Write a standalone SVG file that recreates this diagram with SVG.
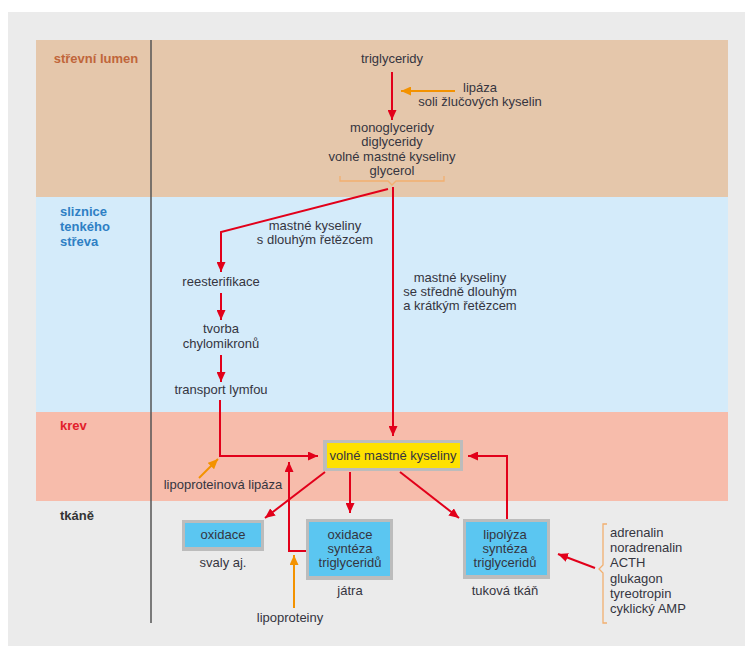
<svg xmlns="http://www.w3.org/2000/svg" width="745" height="646" viewBox="0 0 745 646">
<defs>
<style>
.t{font-family:"Liberation Sans",Arial,sans-serif;font-size:13px;fill:#35353f;text-anchor:middle}
.tl{font-family:"Liberation Sans",Arial,sans-serif;font-size:13px;fill:#35353f}
.b{font-family:"Liberation Sans",Arial,sans-serif;font-size:13px;font-weight:bold}
.r{stroke:#e2001a;stroke-width:2;fill:none}
.o{stroke:#f39200;stroke-width:2;fill:none}
.br{stroke:#f2b070;stroke-width:1.3;fill:none}
.frame{fill:#bcbcbc}
.blue{fill:#5bc6f1}
</style>
<marker id="ar" viewBox="0 0 10 9" refX="10" refY="4.5" markerWidth="10" markerHeight="9" markerUnits="userSpaceOnUse" orient="auto"><path d="M0,0 L10,4.5 L0,9 z" fill="#e2001a"/></marker>
<marker id="ao" viewBox="0 0 10 9" refX="10" refY="4.5" markerWidth="10" markerHeight="9" markerUnits="userSpaceOnUse" orient="auto"><path d="M0,0 L10,4.5 L0,9 z" fill="#f39200"/></marker>
</defs>
<rect x="8" y="12" width="737" height="634" fill="#ebebeb"/>
<g id="bands">
<rect x="36" y="40" width="692" height="157" fill="#e5c7ab"/>
<rect x="36" y="197" width="692" height="215" fill="#d4ebfa"/>
<rect x="36" y="412" width="692" height="89" fill="#f7bcab"/>
<line x1="151" y1="40" x2="151" y2="623" stroke="#555" stroke-width="1.5"/>
<text class="b" x="96" y="63" text-anchor="middle" fill="#c0653a">střevní lumen</text>
<text class="b" x="60" y="216" fill="#2e7fc4">sliznice</text>
<text class="b" x="60" y="231" fill="#2e7fc4">tenkého</text>
<text class="b" x="60" y="246" fill="#2e7fc4">střeva</text>
<text class="b" x="60" y="430" fill="#e2202a">krev</text>
<text class="b" x="60" y="520" fill="#333">tkáně</text>
</g>
<g id="connectors">
<line class="r" x1="392" y1="72" x2="392" y2="120" marker-end="url(#ar)"/>
<line class="o" x1="455" y1="91" x2="401" y2="91" marker-end="url(#ao)"/>
<line class="r" x1="393" y1="187" x2="393" y2="436" marker-end="url(#ar)"/>
<path class="r" d="M388,189 L221,232 L221,272" marker-end="url(#ar)"/>
<line class="r" x1="221" y1="293" x2="221" y2="320" marker-end="url(#ar)"/>
<line class="r" x1="221" y1="355" x2="221" y2="382" marker-end="url(#ar)"/>
<path class="r" d="M220,400 L220,456 L318,456" marker-end="url(#ar)"/>
<line class="o" x1="199" y1="478" x2="218" y2="459" marker-end="url(#ao)"/>
<path class="r" d="M307,551 L289,551 L289,462" marker-end="url(#ar)"/>
<line class="r" x1="325" y1="472" x2="265" y2="518" marker-end="url(#ar)"/>
<line class="r" x1="350" y1="472" x2="350" y2="513" marker-end="url(#ar)"/>
<line class="r" x1="400" y1="472" x2="459" y2="518" marker-end="url(#ar)"/>
<path class="r" d="M507,519 L507,456 L468,456" marker-end="url(#ar)"/>
<line class="r" x1="595" y1="568" x2="558" y2="554" marker-end="url(#ar)"/>
<line class="o" x1="294" y1="608" x2="294" y2="555" marker-end="url(#ao)"/>
<path class="br" d="M340,176 L340,181 L388,181 L392,185 L396,181 L444,181 L444,176"/>
<path class="br" d="M607,524 L603,524 L603,565 L599,569 L603,573 L603,623 L607,623"/>
</g>
<g id="n-triglyceridy"><text class="t" x="392" y="63">triglyceridy</text></g>
<g id="n-lipaza"><text class="t" x="480" y="92">lipáza</text><text class="t" x="480" y="106">soli žlučových kyselin</text></g>
<g id="n-products">
<text class="t" x="392" y="132">monoglyceridy</text>
<text class="t" x="392" y="146">diglyceridy</text>
<text class="t" x="392" y="161">volné mastné kyseliny</text>
<text class="t" x="392" y="175">glycerol</text>
</g>
<g id="n-long"><text class="t" x="315" y="230">mastné kyseliny</text><text class="t" x="315" y="244">s dlouhým řetězcem</text></g>
<g id="n-medium"><text class="t" x="460" y="282">mastné kyseliny</text><text class="t" x="460" y="296">se středně dlouhým</text><text class="t" x="460" y="310">a krátkým řetězcem</text></g>
<g id="n-reesterifikace"><text class="t" x="221" y="286">reesterifikace</text></g>
<g id="n-tvorba"><text class="t" x="221" y="333">tvorba</text><text class="t" x="221" y="348">chylomikronů</text></g>
<g id="n-transport"><text class="t" x="221" y="394">transport lymfou</text></g>
<g id="n-vmk">
<rect class="frame" x="323" y="440" width="140" height="31"/>
<rect x="327" y="443" width="133" height="25" fill="#ffe100"/>
<text class="t" x="393" y="460">volné mastné kyseliny</text>
</g>
<g id="n-lpl"><text class="t" x="223" y="489">lipoproteinová lipáza</text></g>
<g id="n-svaly">
<rect class="frame" x="182" y="520" width="82" height="31"/>
<rect class="blue" x="185" y="523" width="76" height="24"/>
<text class="t" x="223" y="539">oxidace</text>
<text class="t" x="223" y="567">svaly aj.</text>
</g>
<g id="n-jatra">
<rect class="frame" x="306" y="519" width="87" height="61"/>
<rect class="blue" x="309" y="522" width="81" height="54"/>
<text class="t" x="350" y="539">oxidace</text>
<text class="t" x="350" y="553">syntéza</text>
<text class="t" x="350" y="567">triglyceridů</text>
<text class="t" x="350" y="595">játra</text>
</g>
<g id="n-tukova">
<rect class="frame" x="463" y="519" width="87" height="60"/>
<rect class="blue" x="466" y="522" width="81" height="53"/>
<text class="t" x="505" y="539">lipolýza</text>
<text class="t" x="505" y="553">syntéza</text>
<text class="t" x="505" y="567">triglyceridů</text>
<text class="t" x="505" y="595">tuková tkáň</text>
</g>
<g id="n-lipoproteiny"><text class="t" x="290" y="622">lipoproteiny</text></g>
<g id="n-hormony">
<text class="tl" x="610" y="537">adrenalin</text>
<text class="tl" x="610" y="552">noradrenalin</text>
<text class="tl" x="610" y="567">ACTH</text>
<text class="tl" x="610" y="583">glukagon</text>
<text class="tl" x="610" y="598">tyreotropin</text>
<text class="tl" x="610" y="613">cyklický AMP</text>
</g>
</svg>
